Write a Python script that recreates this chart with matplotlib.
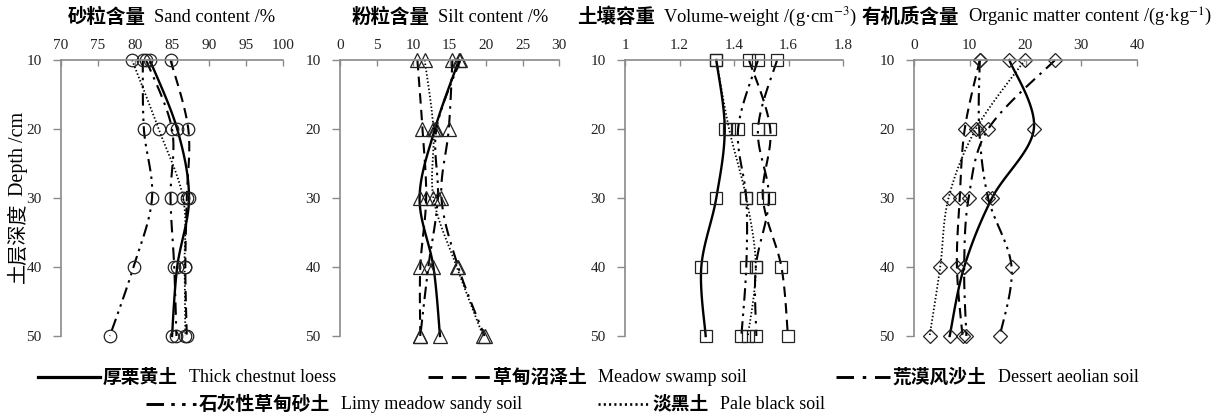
import numpy as np
import matplotlib
matplotlib.use("Agg")
import matplotlib.pyplot as plt
from matplotlib.lines import Line2D

plt.rcParams["mathtext.fontset"] = "stix"

# ---- data -------------------------------------------------------------
depth = [10, 20, 30, 40, 50]

soil_cn = ["厚栗黄土", "草甸沼泽土", "荒漠风沙土", "石灰性草甸砂土", "淡黑土"]
soil_en = ["Thick chestnut loess", "Meadow swamp soil", "Dessert aeolian soil",
           "Limy meadow sandy soil", "Pale black soil"]

# rows follow soil order above
sand = [
    [82.0, 85.7, 87.3, 85.7, 85.0],
    [84.8, 87.2, 87.0, 86.8, 87.0],
    [81.5, 85.0, 84.8, 85.3, 85.6],
    [81.05, 81.2, 82.3, 79.8, 76.6],
    [79.6, 83.2, 86.5, 86.7, 86.8],
]
silt = [
    [16.3, 13.0, 10.9, 12.8, 13.7],
    [10.6, 11.3, 11.8, 11.0, 11.0],
    [15.4, 14.9, 13.9, 16.2, 19.8],
    [16.5, 13.2, 13.4, 12.1, 11.0],
    [11.6, 12.8, 12.8, 16.0, 19.6],
]
bulk_density = [
    [1.335, 1.366, 1.335, 1.280, 1.296],
    [1.455, 1.533, 1.506, 1.574, 1.598],
    [1.558, 1.488, 1.528, 1.480, 1.482],
    [1.488, 1.415, 1.445, 1.445, 1.427],
    [1.335, 1.382, 1.445, 1.480, 1.451],
]
organic_matter = [
    [17.1, 21.5, 14.0, 9.0, 6.4],
    [11.8, 9.1, 8.2, 7.7, 8.7],
    [25.3, 13.3, 9.8, 9.0, 9.4],
    [11.8, 11.7, 13.3, 17.5, 15.4],
    [19.9, 11.1, 6.2, 4.7, 2.8],
]

titles_cn = ["砂粒含量", "粉粒含量", "土壤容重", "有机质含量"]
titles_en = ["Sand content /%", "Silt content /%",
             r"Volume-weight /(g·cm$^{-3}$)", r"Organic matter content /(g·kg$^{-1}$)"]
xlims = [(70, 100), (0, 30), (1, 1.8), (0, 40)]
xticks = [[70, 75, 80, 85, 90, 95, 100], [0, 5, 10, 15, 20, 25, 30],
          [1, 1.2, 1.4, 1.6, 1.8], [0, 10, 20, 30, 40]]
xticklabels = [[str(v) for v in xticks[0]], [str(v) for v in xticks[1]],
               ["1", "1.2", "1.4", "1.6", "1.8"], [str(v) for v in xticks[3]]]
markers = ["o", "^", "s", "D"]
marker_sizes = [9, 9.5, 9, 7]

# ---- styles -----------------------------------------------------------
LW = 1.5
line_styles = [
    dict(linestyle="-", linewidth=1.7),
    dict(linestyle=(0, (5, 3)), linewidth=LW),
    dict(linestyle=(0, (6, 3, 1.2, 3)), linewidth=LW),
    dict(linestyle=(0, (6, 2.5, 1.2, 2.5, 1.2, 2.5)), linewidth=LW),
    dict(linestyle=(0, (0.8, 1.2)), linewidth=1.3),
]

SERIF = "Liberation Serif"
CJK = "Noto Sans CJK SC"
AXIS_GREY = "#8a8a8a"

W, H = 1226, 419


def fx(px):
    return px / W


def fy(py):
    return 1 - py / H


def smooth(xs, ys, n=24):
    """Bezier smoothing through the points (Catmull-Rom style control points)."""
    p = np.column_stack([xs, ys]).astype(float)
    out = [p[0]]
    for i in range(len(p) - 1):
        p0 = p[i - 1] if i > 0 else p[i]
        p1, p2 = p[i], p[i + 1]
        p3 = p[i + 2] if i + 2 < len(p) else p[i + 1]
        b1 = p1 + (p2 - p0) / 6.0
        b2 = p2 - (p3 - p1) / 6.0
        t = np.linspace(0, 1, n)[1:, None]
        seg = ((1 - t) ** 3) * p1 + 3 * ((1 - t) ** 2) * t * b1 + 3 * (1 - t) * t ** 2 * b2 + t ** 3 * p2
        out.extend(seg)
    out = np.array(out)
    return out[:, 0], out[:, 1]


fig = plt.figure(figsize=(W / 100, H / 100), dpi=100)

panel_px = [(61, 283), (340, 559), (625, 843), (914, 1137)]
top_px, bot_px = 60, 336
title_left_px = [68, 352, 577, 862]
datasets = [sand, silt, bulk_density, organic_matter]

for k, (x0, x1) in enumerate(panel_px):
    ax = fig.add_axes([fx(x0), fy(bot_px), (x1 - x0) / W, (bot_px - top_px) / H])
    data = datasets[k]
    for s in range(len(soil_en)):
        sx, sy = smooth(data[s], depth)
        ax.plot(sx, sy, color="black", clip_on=False, **line_styles[s])
        ax.plot(data[s], depth, linestyle="none", marker=markers[k],
                markersize=marker_sizes[k], markerfacecolor="none",
                markeredgecolor="#222222", markeredgewidth=0.9, clip_on=False)
    ax.set_xlim(*xlims[k])
    ax.set_ylim(50, 10)
    ax.set_xticks(xticks[k])
    ax.set_xticklabels(xticklabels[k])
    ax.set_yticks(depth)
    ax.xaxis.tick_top()
    for side in ("bottom", "right"):
        ax.spines[side].set_visible(False)
    for side in ("top", "left"):
        ax.spines[side].set_color(AXIS_GREY)
        ax.spines[side].set_linewidth(1.2)
    ax.tick_params(axis="x", direction="in", length=4, width=1, color=AXIS_GREY, pad=6)
    ax.tick_params(axis="y", direction="out", length=6, width=1, color=AXIS_GREY, pad=8)
    for lab in ax.get_xticklabels() + ax.get_yticklabels():
        lab.set_fontfamily(SERIF)
        lab.set_fontsize(11)
        lab.set_color("#222222")

    # panel title: bold Chinese followed by the English name
    t1 = fig.text(fx(title_left_px[k]), fy(17), titles_cn[k], family=CJK,
                  fontweight="bold", fontsize=14, ha="left", va="center")
    ax.annotate(titles_en[k], xy=(1, 0.5), xycoords=t1, xytext=(6, 0),
                textcoords="offset points", ha="left", va="center",
                family=SERIF, fontsize=13.3)

# y-axis label shared by all panels
ty = fig.text(fx(18), fy(283), "土层深度", family=CJK, fontweight="normal",
              fontsize=14.5, rotation=90, ha="center", va="bottom")
fig.axes[0].annotate("Depth /cm", xy=(0.5, 1), xycoords=ty, xytext=(0, 5),
                     textcoords="offset points", rotation=90, ha="center",
                     va="bottom", family=SERIF, fontsize=14.5)

# legend
legend_px = [
    (38, 100, 377),
    (428, 490, 377),
    (836, 890, 377),
    (146, 196, 404),
    (598, 650, 404),
]
for s, (lx0, lx1, ly) in enumerate(legend_px):
    style = dict(line_styles[s])
    style["linewidth"] = style["linewidth"] + 0.6
    fig.add_artist(Line2D([fx(lx0), fx(lx1)], [fy(ly), fy(ly)], color="black",
                          transform=fig.transFigure, **style))
    tl = fig.text(fx(lx1 + 3), fy(ly), soil_cn[s], family=CJK, fontweight="bold",
                  fontsize=13.5, ha="left", va="center")
    fig.axes[0].annotate(soil_en[s], xy=(1, 0.5), xycoords=tl, xytext=(8, 0),
                         textcoords="offset points", ha="left", va="center",
                         family=SERIF, fontsize=13)

fig.savefig("out.png", dpi=100)
